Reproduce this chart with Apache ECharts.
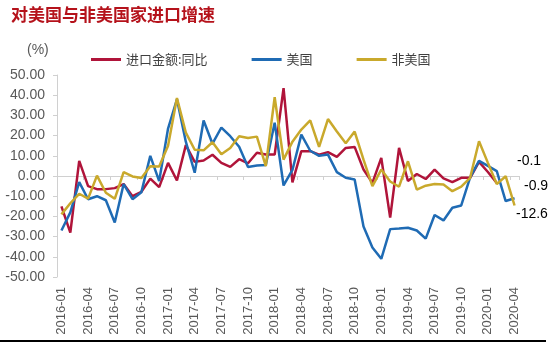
<!DOCTYPE html>
<html>
<head>
<meta charset="utf-8">
<script src="https://cdn.jsdelivr.net/npm/echarts@6/dist/echarts.min.js"></script>
<style>html,body{margin:0;padding:0;background:#fff}#c{width:550px;height:343px}</style>
</head>
<body>
<div id="c"></div>
<script>
// Monthly categories 2016-01 .. 2020-04
const categories = [];
for (let y = 2016; y <= 2020; y++) {
  for (let m = 1; m <= 12; m++) {
    if (y === 2020 && m > 4) break;
    categories.push(y + '-' + (m < 10 ? '0' + m : m));
  }
}
const seriesNames = ['进口金额:同比', '美国', '非美国'];
const totalImports = [-15, -28, 7.5, -5, -6.5, -6.5, -6, -4, -10, -7.8, -1.3, -5.5,
  6.5, -2.2, 15.3, 7, 7.7, 10.5, 6.5, 4.5, 8.3, 6.3, 11.5, 10.6,
  10.6, 43.5, -3.2, 12.3, 12.3, 10.6, 11.8, 9.5, 13.9, 14.4, 3.2, -3.4,
  9, -20.6, 13.9, -2.5, 1, -1.5, 3.2, -1.2, -3, -0.9, -0.9, 7,
  2, -3.5, null, null];
const usImports = [-27, -18, -3, -11.5, -10, -12, -23, -4, -11.5, -8, 10, -2.5,
  23.5, 38, 17, 1.6, 27.5, 16, 24, 19.7, 14.5, 4.5, 5.2, 5.5,
  26.4, -4.7, 3, 20.5, 12.5, 10, 10.6, 1.9, -0.9, -1.7, -25, -35.4,
  -41, -26.3, -26, -25.6, -27, -31, -19.3, -22, -15.7, -14.6, -0.7, 7.5,
  5, 2.4, -12.4, -11];
const nonUsImports = [-19, -13.5, -8.8, -11.2, 0.2, -8.3, -11.3, 1.9, -0.2, -1, 4.8, 4.7,
  15, 38.6, 21.5, 13, 12.7, 16.7, 10.8, 13.9, 19.7, 18.8, 19.5, 4.9,
  39, 8.1, 17, 23, 27.5, 14.4, 28.2, 22, 16.2, 22, 8.1, -5,
  3.2, -2.7, -5.3, 7.3, -6.7, -4.8, -4, -4.2, -7.5, -5.3, -0.9, 17.2,
  6.5, -4, -0.1, -14.6];
const endLabels = ['-0.1', '-0.9', '-12.6'];
const yTicks = { min: -50, max: 50, step: 10 };

const colors = ['#B0143A', '#1F6BB4', '#C9A92C'];
const chart = echarts.init(document.getElementById('c'));
const font = '"Liberation Sans", Arial, "Noto Sans CJK SC", sans-serif';

chart.setOption({
  animation: false,
  textStyle: { fontFamily: font },
  color: colors,
  title: {
    text: '对美国与非美国家进口增速',
    left: 6, top: 1,
    textStyle: { fontSize: 17, fontWeight: 'bold', color: '#B5121B', fontFamily: '"Noto Sans CJK SC", sans-serif' }
  },
  legend: {
    data: seriesNames,
    left: 86, top: 48,
    icon: 'rect', itemWidth: 30, itemHeight: 3, itemGap: 44,
    textStyle: { fontSize: 13, color: '#404040', fontFamily: '"Noto Sans CJK SC", sans-serif' }
  },
  grid: { left: 57, right: 31, top: 75, bottom: 66, containLabel: false },
  xAxis: [{
    type: 'category', data: categories, boundaryGap: true, position: 'bottom',
    axisLine: { show: false, onZero: false },
    axisTick: { show: false },
    axisLabel: { rotate: 90, interval: 2, fontSize: 13, color: '#595959', margin: 10 }
  }, {
    type: 'category', data: categories, boundaryGap: true, position: 'bottom',
    axisLine: { show: true, onZero: true, lineStyle: { color: '#D0D0D0', width: 1 } },
    axisTick: { show: true, interval: 2, length: 4, lineStyle: { color: '#D0D0D0' } },
    axisLabel: { show: false },
    splitLine: { show: false }
  }],
  yAxis: {
    type: 'value', min: yTicks.min, max: yTicks.max, interval: yTicks.step,
    axisLine: { show: true, lineStyle: { color: '#D0D0D0' } },
    axisTick: { show: true, length: 4, lineStyle: { color: '#D0D0D0' } },
    splitLine: { show: false },
    axisLabel: { fontSize: 14, color: '#595959', margin: 12, formatter: v => v.toFixed(2) }
  },
  series: [
    { name: seriesNames[0], type: 'line', data: totalImports, symbol: 'none', lineStyle: { width: 2.5 } },
    { name: seriesNames[1], type: 'line', data: usImports, symbol: 'none', lineStyle: { width: 2.5 } },
    { name: seriesNames[2], type: 'line', data: nonUsImports, symbol: 'none', lineStyle: { width: 2.5 } }
  ],
  graphic: [
    { type: 'text', left: 27, top: 43, style: { text: '(%)', font: '14px ' + font, fill: '#595959' } },
    { type: 'text', left: 517, top: 154, style: { text: endLabels[0], font: '14px ' + font, fill: '#000' } },
    { type: 'text', left: 524, top: 179, style: { text: endLabels[1], font: '14px ' + font, fill: '#000' } },
    { type: 'text', left: 516, top: 207, style: { text: endLabels[2], font: '14px ' + font, fill: '#000' } },
    { type: 'line', shape: { x1: 0, y1: 341, x2: 546, y2: 341 }, style: { stroke: '#000', lineWidth: 2 } }
  ]
});
</script>
</body>
</html>
